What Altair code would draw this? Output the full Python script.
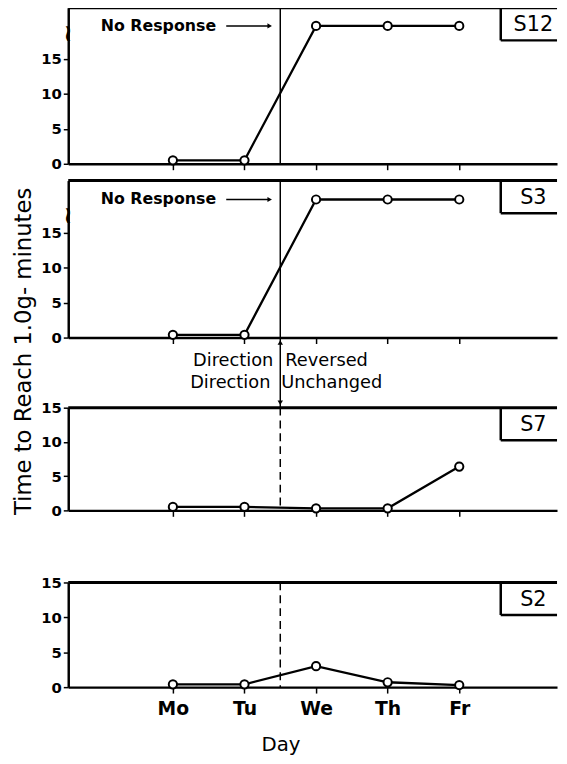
import altair as alt
import pandas as pd

FONT = "DejaVu Sans"

# ---- data ----
days = ["Mo", "Tu", "We", "Th", "Fr"]
day_index = [1, 2, 3, 4, 5]
NO_RESP = 19.7          # level of the "No Response" points (above axis break)
s12 = [0.5, 0.5, NO_RESP, NO_RESP, NO_RESP]
s3 = [0.4, 0.4, NO_RESP, NO_RESP, NO_RESP]
s7 = [0.5, 0.5, 0.3, 0.3, 6.4]
s2 = [0.4, 0.4, 3.0, 0.7, 0.3]
y_ticks = [0, 5, 10, 15]
change_day = [2.5]      # between Tu and We
break_s12 = [18.6]
break_s3 = [17.4]

# ---- layout constants ----
W = 495
XDOM = [-0.462, 6.366]
label_js = "[" + ",".join("'%s'" % d for d in days) + "][datum.value - 1]"

one = pd.DataFrame({"k": [0]})


def xenc(field, show_labels):
    return alt.X(
        field,
        scale=alt.Scale(domain=XDOM, nice=False, zero=False),
        axis=alt.Axis(
            values=day_index,
            tickCount=10,
            labelExpr=label_js,
            labels=show_labels,
            title="Day" if show_labels else None,
            tickSize=6,
            tickWidth=1.5,
            labelFontSize=19,
            labelFontWeight="bold",
            labelPadding=7,
            titleFontSize=20,
            titleFontWeight="normal",
            titleX=215,
            titleY=48,
            titleAlign="center",
            grid=False,
            domainWidth=2.5,
        ),
    )


def yenc(ydom):
    return alt.Y(
        "value:Q",
        scale=alt.Scale(domain=ydom, nice=False, zero=True),
        axis=alt.Axis(
            values=y_ticks,
            tickCount=10,
            labelOverlap=False,
            title=None,
            tickSize=5,
            tickWidth=1.5,
            labelFontSize=15,
            labelFontWeight="bold",
            labelPadding=2,
            grid=False,
            domainWidth=2.5,
        ),
    )


def panel(name, vals, height, ydom, solid, bottom, brk):
    df = pd.DataFrame({"day": day_index, "value": vals})
    x = xenc("day:Q", bottom)
    y = yenc(ydom)
    layers = []
    vl = alt.Chart(pd.DataFrame({"day": change_day})).mark_rule(
        color="black", strokeWidth=1.5, strokeDash=[] if solid else [8, 5]
    ).encode(x=alt.X("day:Q"))
    layers.append(vl)
    layers.append(
        alt.Chart(one).mark_rule(color="black", strokeWidth=3).encode(
            x=alt.value(0), x2=alt.value(W), y=alt.value(0)
        )
    )
    layers.append(
        alt.Chart(one).mark_rule(color="black", strokeWidth=2.5).encode(
            x=alt.value(438), y=alt.value(0), y2=alt.value(33)
        )
    )
    layers.append(
        alt.Chart(one).mark_rule(color="black", strokeWidth=2.5).encode(
            x=alt.value(438), x2=alt.value(W), y=alt.value(33)
        )
    )
    layers.append(
        alt.Chart(one).mark_text(
            text=name, fontSize=21, font=FONT, align="center", baseline="middle",
            color="black"
        ).encode(x=alt.value(471), y=alt.value(18))
    )
    if brk is not None:
        layers.append(
            alt.Chart(pd.DataFrame({"value": brk})).mark_text(
                text="~", fontSize=24, fontWeight="bold", font=FONT, angle=90,
                align="center", baseline="middle", color="black", fill="black"
            ).encode(x=alt.value(0), y=alt.Y("value:Q"))
        )
        layers.append(
            alt.Chart(pd.DataFrame({"value": [NO_RESP]})).mark_text(
                text="No Response", fontSize=16, fontWeight="bold", font=FONT,
                align="left", baseline="middle", color="black"
            ).encode(x=alt.value(33), y=alt.Y("value:Q"))
        )
        layers.append(
            alt.Chart(pd.DataFrame({"value": [NO_RESP]})).mark_rule(
                color="black", strokeWidth=1.5
            ).encode(x=alt.value(160), x2=alt.value(203), y=alt.Y("value:Q"))
        )
        layers.append(
            alt.Chart(pd.DataFrame({"value": [NO_RESP]})).mark_point(
                shape="triangle-right", filled=True, color="black", size=28, opacity=1
            ).encode(x=alt.value(204), y=alt.Y("value:Q"))
        )
    line = alt.Chart(df).mark_line(color="black", strokeWidth=2.3).encode(x=x, y=y)
    pts = alt.Chart(df).mark_point(
        shape="circle", filled=True, fill="white", stroke="black",
        strokeWidth=2, size=70, opacity=1
    ).encode(x="day:Q", y="value:Q")
    return alt.layer(line, *layers, pts).properties(width=W, height=height)


def spacer(h):
    return alt.Chart(one).mark_point(opacity=0).encode(
        x=alt.value(0), y=alt.value(0)
    ).properties(width=W, height=h)


annot_x = alt.X("day:Q", scale=alt.Scale(domain=XDOM, nice=False, zero=False), axis=None)
cd = pd.DataFrame({"day": change_day})
annot = alt.layer(
    alt.Chart(cd).mark_rule(color="black", strokeWidth=1.5).encode(
        x=annot_x, y=alt.value(0), y2=alt.value(71)
    ),
    alt.Chart(cd).mark_point(shape="triangle-up", filled=True, color="black",
                             size=30, opacity=1).encode(x="day:Q", y=alt.value(5)),
    alt.Chart(cd).mark_point(shape="triangle-down", filled=True, color="black",
                             size=30, opacity=1).encode(x="day:Q", y=alt.value(66)),
    alt.Chart(cd).mark_text(text="Direction", fontSize=18, font=FONT, align="right",
                            baseline="middle", dx=-7).encode(x="day:Q", y=alt.value(24)),
    alt.Chart(cd).mark_text(text="Reversed", fontSize=18, font=FONT, align="left",
                            baseline="middle", dx=5).encode(x="day:Q", y=alt.value(24)),
    alt.Chart(cd).mark_text(text="Direction", fontSize=18, font=FONT, align="right",
                            baseline="middle", dx=-10).encode(x="day:Q", y=alt.value(46)),
    alt.Chart(cd).mark_text(text="Unchanged", fontSize=18, font=FONT, align="left",
                            baseline="middle", dx=1).encode(x="day:Q", y=alt.value(46)),
    alt.Chart(one).mark_text(text="Time to Reach 1.0g- minutes", fontSize=23, font=FONT,
                             angle=270, align="center", baseline="middle").encode(
        x=alt.value(-45), y=alt.value(14)
    ),
).properties(width=W, height=71)

chart = alt.vconcat(
    panel("S12", s12, 158, [0, 22.3], True, False, break_s12),
    spacer(17),
    panel("S3", s3, 159, [0, 22.4], True, False, break_s3),
    annot,
    panel("S7", s7, 104, [0, 15], False, False, None),
    spacer(73),
    panel("S2", s2, 106, [0, 15], False, True, None),
    spacing=0,
    bounds="flush",
).properties(
    padding={"left": 4, "top": -7, "right": 0, "bottom": 0}
).configure_view(stroke=None).configure_axis(
    labelFont=FONT, titleFont=FONT, domainColor="black", tickColor="black",
    labelColor="black", titleColor="black"
).configure_text(font=FONT, color="black")

chart.save("out.html", embed_options={"renderer": "svg", "actions": False})
